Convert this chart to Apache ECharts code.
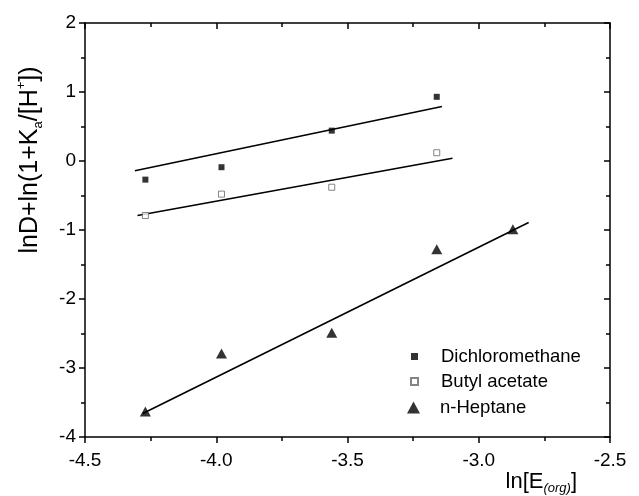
<!DOCTYPE html>
<html>
<head>
<meta charset="utf-8">
<script src="https://cdn.jsdelivr.net/npm/echarts@6/dist/echarts.min.js"></script>
<style>
  html, body { margin: 0; padding: 0; background: #fff; }
  #chart { width: 639px; height: 496px; }
</style>
</head>
<body>
<div id="chart"></div>
<script>
// values
const xDcm = [-4.27, -3.98, -3.56, -3.16]
const yDcm = [-0.27, -0.09, 0.44, 0.93]
const xBa = [-4.27, -3.98, -3.56, -3.16]
const yBa = [-0.79, -0.48, -0.38, 0.12]
const xHep = [-4.27, -3.98, -3.56, -3.16, -2.87]
const yHep = [-3.63, -2.79, -2.49, -1.28, -0.99]

// fitted lines (end points)
const fitDcm = [[-4.31, -0.14], [-3.14, 0.79]]
const fitBa = [[-4.30, -0.79], [-3.10, 0.04]]
const fitHep = [[-4.28, -3.66], [-2.81, -0.89]]

const names = ['Dichloromethane', 'Butyl acetate', 'n-Heptane']

const zip = (xs, ys) => xs.map((x, i) => [x, ys[i]])

const font = 'Liberation Sans, Arial, sans-serif'
const axisLine = { show: true, onZero: false, lineStyle: { color: '#000', width: 1.5 } }
const tick = (inside) => ({ show: true, inside: inside, length: 6, lineStyle: { color: '#000', width: 1.5 } })
const minor = (inside) => ({ show: true, splitNumber: 2, length: 4, lineStyle: { color: '#000', width: 1.5 } })

const chart = echarts.init(document.getElementById('chart'))

const fitLine = (data) => ({
	type: 'line',
	data: data,
	symbol: 'none',
	silent: true,
	lineStyle: { color: '#000', width: 1.6 },
	z: 1
})

const option = {
	animation: false,
	grid: { left: 85, right: 29, top: 23, bottom: 59 },
	xAxis: [{
		type: 'value',
		min: -4.5,
		max: -2.5,
		interval: 0.5,
		axisLine: axisLine,
		axisTick: tick(false),
		minorTick: minor(false),
		splitLine: { show: false },
		axisLabel: {
			color: '#000', fontSize: 19, fontFamily: font, margin: 14,
			formatter: v => v.toFixed(1)
		},
		name: '{n|ln[E}{sub|(org)}{n|]}',
		nameLocation: 'end',
		nameGap: -33,
		nameTextStyle: {
			align: 'right',
			verticalAlign: 'top',
			padding: [32, 0, 0, 0],
			rich: {
				n: { fontSize: 22, fontFamily: font, color: '#000', lineHeight: 26 },
				sub: { fontSize: 13, fontFamily: font, fontStyle: 'italic', color: '#000', verticalAlign: 'bottom', lineHeight: 26, padding: [12, 0, 0, 0] }
			}
		}
	}, {
		type: 'value',
		position: 'top',
		min: -4.5,
		max: -2.5,
		interval: 0.5,
		axisLine: axisLine,
		axisTick: tick(true),
		minorTick: minor(true),
		splitLine: { show: false },
		axisLabel: { show: false }
	}],
	yAxis: [{
		type: 'value',
		min: -4,
		max: 2,
		interval: 1,
		axisLine: axisLine,
		axisTick: tick(false),
		minorTick: minor(false),
		splitLine: { show: false },
		axisLabel: { color: '#000', fontSize: 19, fontFamily: font, margin: 9 },
		name: '{n|lnD+ln(1+K}{sub|a}{n|/[H}{sup|+}{n|])}',
		nameLocation: 'middle',
		nameGap: 40,
		nameTextStyle: {
			padding: [0, 0, 0, 140],
			rich: {
				n: { fontSize: 25, fontFamily: font, color: '#000', lineHeight: 30 },
				sub: { fontSize: 13, fontFamily: font, color: '#000', verticalAlign: 'bottom', lineHeight: 30, padding: [10, 0, 0, 0] },
				sup: { fontSize: 13, fontFamily: font, color: '#000', verticalAlign: 'top', lineHeight: 30, padding: [0, 0, 10, 0] }
			}
		}
	}, {
		type: 'value',
		position: 'right',
		min: -4,
		max: 2,
		interval: 1,
		axisLine: axisLine,
		axisTick: tick(true),
		minorTick: minor(true),
		splitLine: { show: false },
		axisLabel: { show: false }
	}],
	legend: [{
		data: [
			{ name: names[0], icon: 'rect' },
			{ name: names[1], icon: 'rect' }
		],
		orient: 'vertical',
		left: 405,
		top: 342,
		itemWidth: 7,
		itemHeight: 7,
		itemGap: 6,
		selectedMode: false,
		textStyle: { color: '#000', fontSize: 18.5, fontFamily: font, padding: [0, 0, 0, 18] }
	}, {
		data: [{ name: names[2], icon: 'triangle' }],
		orient: 'vertical',
		left: 402,
		top: 393,
		itemWidth: 13,
		itemHeight: 12,
		selectedMode: false,
		textStyle: { color: '#000', fontSize: 18.5, fontFamily: font, padding: [0, 0, 0, 15] }
	}],
	series: [{
		name: names[0],
		type: 'scatter',
		data: zip(xDcm, yDcm),
		symbol: 'rect',
		symbolSize: 6,
		itemStyle: { color: '#000' },
		z: 3
	}, {
		name: names[1],
		type: 'scatter',
		data: zip(xBa, yBa),
		symbol: 'rect',
		symbolSize: 6,
		itemStyle: { color: '#fff', borderColor: '#666', borderWidth: 1 },
		z: 3
	}, {
		name: names[2],
		type: 'scatter',
		data: zip(xHep, yHep),
		symbol: 'triangle',
		symbolSize: [11, 10],
		itemStyle: { color: '#000' },
		z: 3
	},
	fitLine(fitDcm),
	fitLine(fitBa),
	fitLine(fitHep)]
}

chart.setOption(option)
</script>
</body>
</html>
